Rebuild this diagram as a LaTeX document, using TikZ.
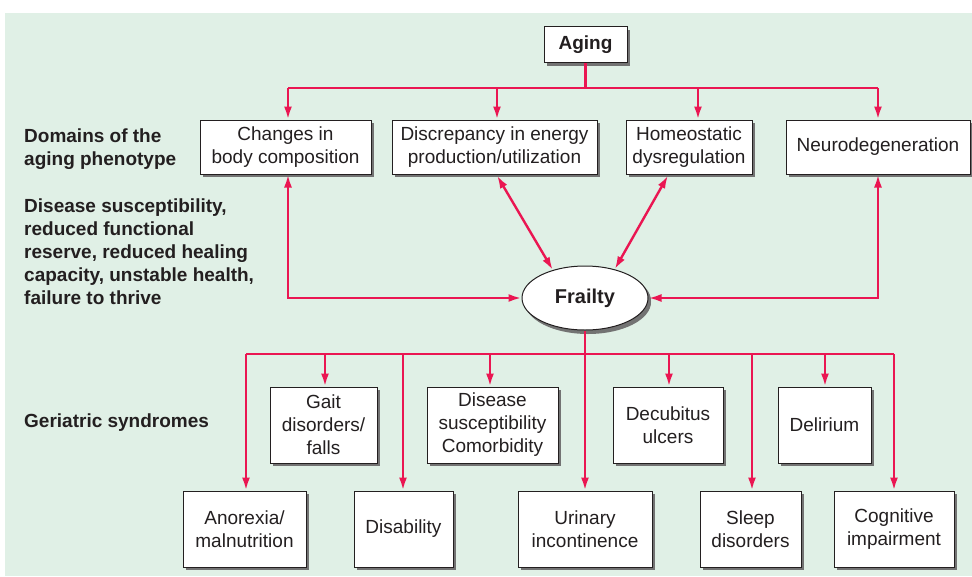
\documentclass[tikz,border=0pt]{standalone}
\usepackage{fontspec}
\setmainfont{Liberation Sans}
\usetikzlibrary{shapes.geometric,arrows.meta,shadows}
\definecolor{panel}{RGB}{224,240,230}
\definecolor{link}{RGB}{234,22,82}
\definecolor{ink}{RGB}{35,31,32}
\begin{document}
\begin{tikzpicture}[x=1pt,y=-1pt,
  txt/.style={font=\fontsize{19}{23}\selectfont, text=ink},
  box/.style={txt, draw=ink, line width=1pt, fill=white, align=center, inner sep=0pt,
    drop shadow={shadow xshift=3pt, shadow yshift=-3pt, fill=black!55, opacity=1}},
  lbl/.style={font=\fontsize{19}{23}\selectfont\bfseries, text=ink, align=left, anchor=west, inner sep=0pt},
  wire/.style={draw=link, line width=2.4pt},
  arr/.style={wire, -{Latex[length=13pt,width=8pt]}},
  arrtwo/.style={wire, {Latex[length=13pt,width=8pt]}-{Latex[length=13pt,width=8pt]}}
]
\useasboundingbox (0,0) rectangle (972,576);
\fill[panel] (5,13) rectangle (972,576);

% top node and the four domains
\node[box, minimum width=83pt, minimum height=36pt, font=\fontsize{19}{23}\selectfont\bfseries] (aging) at (585.5,44.5) {Aging};
\node[box, minimum width=171pt, minimum height=54pt] (b1) at (285.5,147) {Changes in\\body composition};
\node[box, minimum width=205pt, minimum height=54pt] (b2) at (494.5,147) {Discrepancy in energy\\production/utilization};
\node[box, minimum width=126pt, minimum height=54pt] (b3) at (689,147) {Homeostatic\\dysregulation};
\node[box, minimum width=184pt, minimum height=54pt] (b4) at (878,147) {Neurodegeneration};

% central ellipse
\node[box, ellipse, minimum width=126pt, minimum height=64pt, font=\fontsize{20}{24}\selectfont\bfseries,
  drop shadow={shadow xshift=3pt, shadow yshift=-4pt, fill=black!55, opacity=1}] (frailty) at (585,298) {Frailty};

% syndromes, upper row
\node[box, minimum width=107pt, minimum height=76pt] (gait) at (323.5,425) {Gait\\disorders/\\falls};
\node[box, minimum width=131pt, minimum height=76pt] (dis) at (492.5,425) {Disease\\susceptibility\\Comorbidity};
\node[box, minimum width=110pt, minimum height=76pt] (decub) at (668,425) {Decubitus\\ulcers};
\node[box, minimum width=93pt, minimum height=76pt] (delir) at (824.5,425) {Delirium};

% syndromes, lower row
\node[box, minimum width=123pt, minimum height=76pt] (anor) at (244.5,529) {Anorexia/\\malnutrition};
\node[box, minimum width=99pt, minimum height=76pt] (disab) at (403.5,529) {Disability};
\node[box, minimum width=134pt, minimum height=76pt] (urin) at (585,529) {Urinary\\incontinence};
\node[box, minimum width=101pt, minimum height=76pt] (sleep) at (750.5,529) {Sleep\\disorders};
\node[box, minimum width=120pt, minimum height=76pt] (cogn) at (894,529) {Cognitive\\impairment};

% side labels
\node[lbl] (domlbl) at (24,149) {Domains of the\\aging phenotype};
\node[lbl] (conlbl) at (24,252) {Disease susceptibility,\\reduced functional\\reserve, reduced healing\\capacity, unstable health,\\failure to thrive};
\node[lbl] (gerlbl) at (24,423) {Geriatric syndromes};

% upper distribution bus
\coordinate (t1) at (288,88);
\coordinate (t2) at (497,88);
\coordinate (t3) at (698,88);
\coordinate (t4) at (878,88);
\draw[wire] (aging.south) -- (aging.south |- t1);
\draw[wire] (t1) -- (t4);
\draw[arr] (t1) -- (t1 |- b1.north);
\draw[arr] (t2) -- (t2 |- b2.north);
\draw[arr] (t3) -- (t3 |- b3.north);
\draw[arr] (t4) -- (t4 |- b4.north);

% feedback between domains and frailty
\draw[arrtwo] (b1.south -| t1) |- (frailty.west);
\draw[arrtwo] (b4.south -| t4) |- (frailty.east);
\draw[arrtwo] ([xshift=2.5pt,yshift=-1pt]b2.south) -- (frailty.139);
\draw[arrtwo] ([xshift=-21pt,yshift=-1pt]b3.south) -- (frailty.44);

% lower distribution bus
\coordinate (s1) at (246,354);
\coordinate (s2) at (325,354);
\coordinate (s3) at (403,354);
\coordinate (s4) at (490,354);
\coordinate (s5) at (585,354);
\coordinate (s6) at (669,354);
\coordinate (s7) at (752,354);
\coordinate (s8) at (825,354);
\coordinate (s9) at (894,354);
\draw[wire] (frailty.south) -- (frailty.south |- s5);
\draw[wire] (s1) -- (s9);
\draw[arr] (s1) -- (s1 |- anor.north);
\draw[arr] (s2) -- (s2 |- gait.north);
\draw[arr] (s3) -- (s3 |- disab.north);
\draw[arr] (s4) -- (s4 |- dis.north);
\draw[arr] (s5) -- (s5 |- urin.north);
\draw[arr] (s6) -- (s6 |- decub.north);
\draw[arr] (s7) -- (s7 |- sleep.north);
\draw[arr] (s8) -- (s8 |- delir.north);
\draw[arr] (s9) -- (s9 |- cogn.north);
\end{tikzpicture}
\end{document}
